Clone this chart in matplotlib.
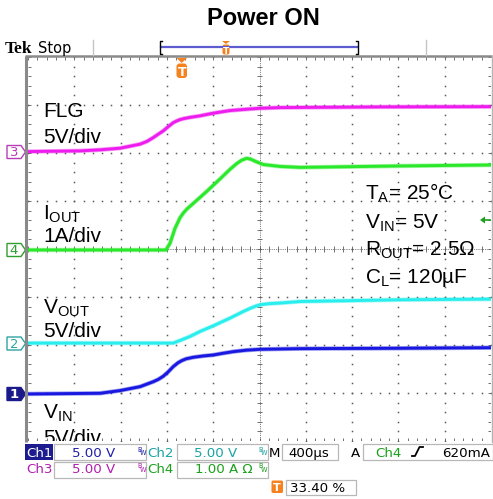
import numpy as np
import matplotlib
matplotlib.use('Agg')
import matplotlib.pyplot as plt
from matplotlib.patches import Rectangle, Polygon, FancyBboxPatch
from matplotlib.collections import LineCollection

plt.rcParams['mathtext.fontset'] = 'custom'
plt.rcParams['mathtext.rm'] = 'Liberation Sans'
plt.rcParams['mathtext.it'] = 'Liberation Sans:italic'
plt.rcParams['mathtext.bf'] = 'Liberation Sans:bold'

# ---------------- data ----------------
title = "Power ON"
time_per_div_us = 400
trigger_pos_pct = 33.40
trigger_level_A = 0.62
n_xdiv, n_ydiv = 10, 8

# FLG (Ch3, 5 V/div)
flg_t = [-1336, -887, -714, -541, -368, -308, -253, -213, -167, -127, -80, -49, -23, 12, 64, 150, 265, 409, 553, 668, 841, 1705, 2664]
flg_v = [0.0, 0.07, 0.18, 0.35, 0.77, 1.06, 1.46, 1.79, 2.16, 2.57, 3.02, 3.20, 3.33, 3.44, 3.56, 3.72, 4.00, 4.27, 4.41, 4.51, 4.58, 4.65, 4.68]
# IOUT (Ch4, 1 A/div)
iout_t = [-1336, -144, -109, -66, -23, 6, 40, 92, 208, 323, 409, 467, 510, 553, 590, 625, 697, 841, 1014, 1878, 2664]
iout_a = [0.0, 0.0, 0.14, 0.45, 0.67, 0.77, 0.86, 0.97, 1.22, 1.48, 1.68, 1.80, 1.87, 1.91, 1.89, 1.85, 1.78, 1.74, 1.72, 1.75, 1.77]
# VOUT (Ch2, 5 V/div)
vout_t = [-1336, -81, -23, 64, 150, 265, 409, 524, 580, 625, 668, 740, 841, 1014, 1878, 2664]
vout_v = [0.0, 0.0, 0.27, 0.69, 1.21, 1.80, 2.60, 3.29, 3.60, 3.82, 3.99, 4.10, 4.17, 4.33, 4.51, 4.58]
# VIN (Ch1, 5 V/div)
vin_t = [-1336, -714, -541, -368, -253, -210, -167, -125, -81, -40, -8, 30, 92, 180, 265, 350, 438, 550, 668, 1014, 1878, 2664]
vin_v = [0.0, 0.07, 0.35, 0.76, 1.28, 1.52, 1.85, 2.30, 2.85, 3.25, 3.47, 3.66, 3.82, 3.96, 4.06, 4.24, 4.41, 4.56, 4.65, 4.72, 4.76, 4.82]

channels = [
    # t, values, units/div, offset (div), colour
    (flg_t, flg_v, 5.0, 2.03, '#ee1cee'),
    (iout_t, iout_a, 1.0, -0.02, '#2ae82a'),
    (vout_t, vout_v, 5.0, -1.96, '#2aeeee'),
    (vin_t, vin_v, 5.0, -3.02, '#1818e0'),
]

# ---------------- figure ----------------
W, H = 493, 499
fig = plt.figure(figsize=(W / 100, H / 100), dpi=100)
fig.patch.set_facecolor('white')
L, T, R, B = 28, 57, 491, 441


def rect(l, t, r, b):
    return [l / W, 1 - b / H, (r - l) / W, (b - t) / H]


ax = fig.add_axes(rect(L, T, R, B))
ax.set_xlim(0, n_xdiv)
ax.set_ylim(-n_ydiv / 2, n_ydiv / 2)
ax.axis('off')

gc = '#5a5a5a'
xm = np.arange(0, n_xdiv + 0.001, 0.2)
ym = np.arange(-4, 4.001, 0.2)
for k in range(1, n_xdiv):
    if k == 5:
        continue
    ax.plot(np.full_like(ym, k), ym, ls='none', marker='s', ms=1.1, mew=0, color=gc)
for m in range(-3, 4):
    if m == 0:
        continue
    ax.plot(xm, np.full_like(xm, m), ls='none', marker='s', ms=1.1, mew=0, color=gc)
# centre lines
ax.plot([5, 5], [-4, 4], color=gc, lw=0.6, ls=(0, (1, 1.2)))
ax.plot([0, 10], [0, 0], color=gc, lw=0.6, ls=(0, (1, 1.2)))
segs = []
for x in xm:
    segs.append([(x, -0.055), (x, 0.055)])
    segs.append([(x, 4), (x, 3.94)])
    segs.append([(x, -4), (x, -3.94)])
for y in ym:
    segs.append([(5 - 0.055, y), (5 + 0.055, y)])
    segs.append([(0, y), (0.065, y)])
    segs.append([(10, y), (9.935, y)])
ax.add_collection(LineCollection(segs, colors=gc, linewidths=0.6))

t0 = -trigger_pos_pct / 100 * n_xdiv * time_per_div_us
t1 = t0 + n_xdiv * time_per_div_us
for t, v, scale, off, col in channels:
    a = fig.add_axes(rect(L, T, R, B))
    a.set_xlim(t0, t1)
    a.set_ylim((-4 - off) * scale, (4 - off) * scale)
    a.axis('off')
    a.plot(t, v, color=col, lw=3.2, alpha=0.4, solid_joinstyle='round', solid_capstyle='butt')
    a.plot(t, v, color=col, lw=2.1, solid_joinstyle='round', solid_capstyle='butt')

# pixel overlay
P = fig.add_axes([0, 0, 1, 1], zorder=10)
P.set_xlim(0, W)
P.set_ylim(H, 0)
P.axis('off')

# borders
P.plot([26, 26], [55.5, 442], color='#8a8a8a', lw=2.2, solid_capstyle='butt')
P.plot([25, 492], [56, 56], color='#8a8a8a', lw=1.8, solid_capstyle='butt')
P.plot([491.5, 491.5], [56, 442], color='#b4b4b4', lw=1.0)
P.plot([92.5, 92.5], [40, 55], color='#c4c4c4', lw=1.0)
P.plot([425.5, 425.5], [40, 55], color='#c4c4c4', lw=1.0)

# title & header
P.text(263, 25, title, ha='center', va='baseline', fontsize=17, fontweight='bold', family='Liberation Sans')
P.text(5, 53, 'Tek', va='baseline', fontsize=12.5, fontweight='bold', family='Liberation Serif')
P.text(38, 52.7, 'Stop', va='baseline', fontsize=10.5, family='DejaVu Sans')
P.plot([161, 357], [47, 47], color='#5c5cd0', lw=1.6)
P.plot([162, 160, 160, 162], [41, 41, 54, 54], color='black', lw=1.0)
P.plot([356, 358, 358, 356], [41, 41, 54, 54], color='black', lw=1.0)
orange = '#f5821f'
P.add_patch(Polygon([(222, 41), (230, 41), (226, 44)], closed=True, fc=orange, ec='none'))
P.add_patch(FancyBboxPatch((222.5, 44.5), 7, 10, boxstyle='round,pad=0,rounding_size=2', fc=orange, ec='none'))
P.text(226, 53.5, 'T', ha='center', va='baseline', fontsize=6.5, fontweight='bold', color='white', family='DejaVu Sans')
# trigger position marker
P.add_patch(Polygon([(176.5, 58), (187, 58), (181.7, 63)], closed=True, fc=orange, ec='none'))
P.add_patch(FancyBboxPatch((176.5, 63.5), 10.5, 14.5, boxstyle='round,pad=0,rounding_size=3', fc=orange, ec='none'))
P.text(181.7, 76, 'T', ha='center', va='baseline', fontsize=9, fontweight='bold', color='white', family='DejaVu Sans')

# channel markers
def chmark(py, label, col, filled):
    pts = [(7, py - 6.5), (21, py - 6.5), (25.5, py), (21, py + 6.5), (7, py + 6.5)]
    P.add_patch(Polygon(pts, closed=True, fc=col if filled else 'white', ec=col, lw=1.0))
    P.text(14, py + 0.5, label, ha='center', va='center', fontsize=9.5,
           color='white' if filled else col, family='DejaVu Sans', fontweight='bold' if filled else 'normal')

chmark(152, '3', '#b83cb8', False)
chmark(250, '4', '#2e9e2e', False)
chmark(343.5, '2', '#2ea4a4', False)
chmark(394, '1', '#1a1a8a', True)

# trigger level arrow
green = '#1e9e1e'
P.add_patch(Polygon([(480, 220), (485, 216.5), (485, 223.5)], closed=True, fc=green, ec='none'))
P.plot([484, 490], [220, 220], color=green, lw=1.2)

# in-screen labels
lab = dict(va='baseline', fontsize=15, family='Liberation Sans', color='black',
           transform=P.transData, clip_on=True)
ax.text(43, 117.3, 'FLG', **lab)
ax.text(43, 143.3, '5V/div', **lab)
ax.text(43, 220, r'I$_\mathregular{OUT}$', **lab)
ax.text(43, 241.7, '1A/div', **lab)
ax.text(43, 313.3, r'V$_\mathregular{OUT}$', **lab)
ax.text(43, 336.7, '5V/div', **lab)
ax.text(43, 418.3, r'V$_\mathregular{IN}$', **lab)
ax.text(43, 444, '5V/div', **lab)

ax.text(365, 200, r'T$_\mathregular{A}$= 25°C', **lab)
ax.text(365, 228.3, r'V$_\mathregular{IN}$= 5V', **lab)
ax.text(365, 255.7, r'R$_\mathregular{OUT}$= 2.5Ω', **lab)
ax.text(365, 283.3, r'C$_\mathregular{L}$= 120µF', **lab)

# status bar
bc = '#b8b8b8'
def box(l, t, r, b):
    P.add_patch(Rectangle((l, t), r - l, b - t, fill=False, ec=bc, lw=0.9))

st = dict(va='baseline', fontsize=9.6, family='DejaVu Sans')
def bw(x, ybase, col):
    P.text(x, ybase - 5, 'B', fontsize=4.8, color=col, family='DejaVu Sans', va='baseline')
    P.text(x + 3, ybase - 1.5, 'W', fontsize=4.8, color=col, family='DejaVu Sans', va='baseline')

blue_t, teal_t, mag_t, grn_t = '#2020a8', '#1aa3a3', '#b01eb0', '#1aa01a'
r1, r2 = 456.7, 473.3
P.add_patch(Rectangle((25, 444), 28, 16, fc='#1c1c8e', ec='none'))
P.text(26, r1, 'Ch1', color='white', **st)
box(54, 444, 146, 460)
P.text(72, r1, '5.00 V', color=blue_t, **st)
bw(137, r1, blue_t)
P.text(147, r1, 'Ch2', color=teal_t, **st)
box(177, 444, 268, 460)
P.text(194, r1, '5.00 V', color=teal_t, **st)
bw(258, r1, teal_t)
P.text(269, r1, 'M', color='black', **st)
box(282, 444, 338, 460)
P.text(288, r1, '400µs', color='black', **st)
P.text(351, r1, 'A', color='black', **st)
box(363, 444, 492.5, 460)
P.text(375, r1, 'Ch4', color=grn_t, **st)
P.plot([412, 415, 419.5, 423], [456, 456, 447, 447], color='black', lw=1.3)
P.text(442, r1, '620mA', color='black', **st)

P.text(26, r2, 'Ch3', color=mag_t, **st)
box(54, 462, 146, 478)
P.text(72, r2, '5.00 V', color=mag_t, **st)
bw(137, r2, mag_t)
P.text(147, r2, 'Ch4', color=grn_t, **st)
box(177, 462, 268, 478)
P.text(195, r2, '1.00 A Ω', color=grn_t, **st)
bw(258, r2, grn_t)

P.add_patch(FancyBboxPatch((271.5, 480.5), 11.5, 12.5, boxstyle='round,pad=0,rounding_size=1.5', fc=orange, ec='none'))
P.text(277.2, 491, 'T', ha='center', va='baseline', fontsize=8, fontweight='bold', color='white', family='DejaVu Sans')
box(286, 480, 356, 495)
P.text(290, 492.5, '33.40 %', color='black', **st)

fig.savefig('out.png', dpi=100, facecolor='white')
